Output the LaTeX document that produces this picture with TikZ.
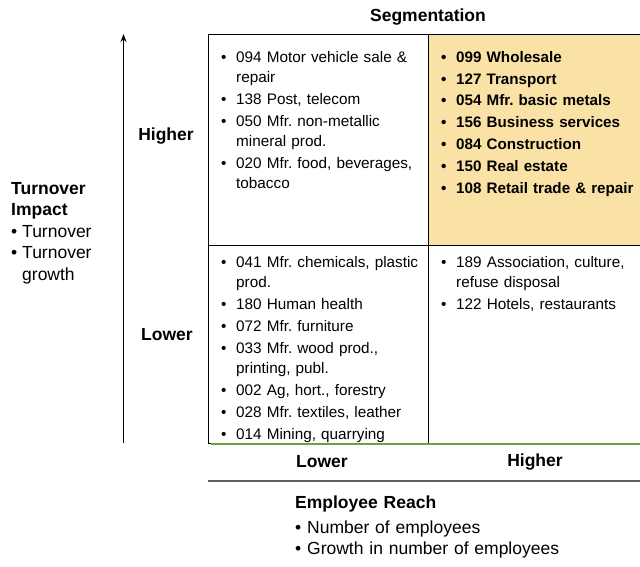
\documentclass[tikz,border=0pt]{standalone}
\usepackage{fontspec}
\setmainfont{Liberation Sans}
\usetikzlibrary{positioning}
\usetikzlibrary{arrows.meta}

\definecolor{cellfill}{RGB}{250,226,166}
\definecolor{basegreen}{RGB}{112,160,60}
\definecolor{rulegray}{RGB}{96,96,96}

\newcommand{\bul}[2][15pt]{\hangindent=#1\hangafter=1\noindent\makebox[#1][l]{\textbullet}#2\par}
\newcommand{\nl}{\hfil\break}

\begin{document}
\begin{tikzpicture}
		[x=1pt, y=-1pt,
		cell/.style={draw=black, line width=1pt, inner sep=0pt, outer sep=0pt},
		items/.style={anchor=north west, inner sep=0pt, text width=210pt, align=left,
			font=\fontsize{15.3}{20}\selectfont\frenchspacing\setlength{\parskip}{2pt}},
		bolditems/.style={items,
			font=\fontsize{15.2}{20}\selectfont\bfseries\frenchspacing\setlength{\parskip}{1.8pt}},
		side/.style={anchor=north west, inner sep=0pt, text width=300pt, align=left,
			font=\fontsize{17.5}{21.5}\selectfont},
		head/.style={inner sep=0pt, font=\fontsize{17.5}{21}\selectfont\bfseries}]
		\useasboundingbox (0,0) rectangle (640,567);

		\node[cell, minimum width=220pt, minimum height=210pt, anchor=north west] (tl) at (208,35) {};
		\node[cell, fill=cellfill, minimum width=214pt, minimum height=210pt, right=0pt of tl] (tr) {};
		\node[cell, minimum width=220pt, minimum height=198pt, below=0pt of tl] (bl) {};
		\node[cell, minimum width=214pt, minimum height=198pt, below=0pt of tr] (br) {};

		\node[items] (tltext) at (221,51) {
			\bul{094 Motor vehicle sale \&\nl repair}
			\bul{138 Post, telecom}
			\bul{050 Mfr. non-metallic\nl mineral prod.}
			\bul{020 Mfr. food, beverages,\nl tobacco}};
		\node[bolditems] (trtext) at (441,51) {
			\bul{099 Wholesale}
			\bul{127 Transport}
			\bul{054 Mfr. basic metals}
			\bul{156 Business services}
			\bul{084 Construction}
			\bul{150 Real estate}
			\bul{108 Retail trade \& repair}};
		\node[items] (bltext) at (221,256) {
			\bul{041 Mfr. chemicals, plastic\nl prod.}
			\bul{180 Human health}
			\bul{072 Mfr. furniture}
			\bul{033 Mfr. wood prod.,\nl printing, publ.}
			\bul{002 Ag, hort., forestry}
			\bul{028 Mfr. textiles, leather}
			\bul{014 Mining, quarrying}};
		\node[items] (brtext) at (441,256) {
			\bul{189 Association, culture,\nl refuse disposal}
			\bul{122 Hotels, restaurants}};

		\node[head] (seg) at (428,17) {Segmentation};
		\node[head] (yhigh) at (166,136) {Higher};
		\node[head] (ylow) at (167,335) {Lower};
		\node[head] (xlow) at (322,462) {Lower};
		\node[head] (xhigh) at (535,462) {Higher};

		\node[side, text width=110pt] (turnover) at (11,182) {
			\textbf{Turnover}\\\textbf{Impact}\par
			\bul[11pt]{Turnover}
			\bul[11pt]{Turnover\nl growth}};
		\node[side] (reach) at (295,496) {
			\textbf{Employee Reach}\par\vspace{3pt}
			\bul[12pt]{Number of employees}
			\bul[12pt]{Growth in number of employees}};

		\coordinate (ybase) at (123.5,443);
		\coordinate (ytop) at (123.5,34);
		\draw[line width=1.3pt, -{Stealth[length=8pt, width=6pt]}] (ybase) -- (ytop);

		\draw[basegreen, line width=2.5pt] ([xshift=3pt, yshift=-1pt]bl.south west) -- ([yshift=-1pt]br.south east);
		\draw[rulegray, line width=2pt] ([yshift=-38pt]bl.south west) -- ([yshift=-38pt]br.south east);
	\end{tikzpicture}
\end{document}
